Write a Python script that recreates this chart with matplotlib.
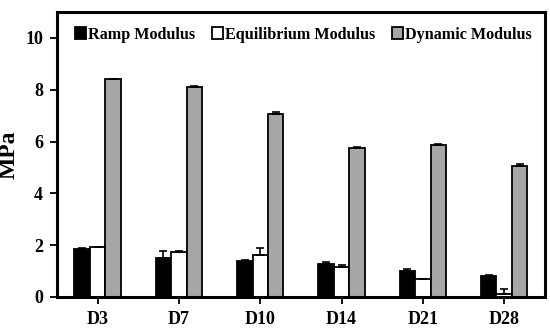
import matplotlib.pyplot as plt
import numpy as np

days = ['D3', 'D7', 'D10', 'D14', 'D21', 'D28']
ramp = [1.84, 1.50, 1.38, 1.28, 1.00, 0.80]
ramp_err = [0.03, 0.27, 0.04, 0.05, 0.07, 0.06]
equil = [1.91, 1.73, 1.63, 1.15, 0.68, 0.12]
equil_err = [0.03, 0.04, 0.25, 0.10, 0.02, 0.20]
dynamic = [8.40, 8.12, 7.05, 5.76, 5.86, 5.05]
dynamic_err = [0.03, 0.03, 0.10, 0.03, 0.03, 0.08]

plt.rcParams['font.family'] = 'Liberation Serif'
plt.rcParams['font.weight'] = 'bold'

fig = plt.figure(figsize=(5.5, 3.34), dpi=100)
ax = fig.add_axes([0.1036, 0.111, 0.887, 0.853])

x = np.arange(len(days))
w = 0.19
ek = dict(ecolor='black', elinewidth=1.2, capsize=3, capthick=1.2)
series = [(ramp, ramp_err, 'black', 'Ramp Modulus', -w),
          (equil, equil_err, 'white', 'Equilibrium Modulus', 0),
          (dynamic, dynamic_err, '#a6a6a6', 'Dynamic Modulus', w)]
for vals, err, col, lab, off in series:
    ax.bar(x + off, vals, w, color=col, edgecolor='black', linewidth=1.3,
           yerr=[np.zeros(len(err)), err], error_kw=ek, label=lab)

ax.set_xlim(-0.5, 5.5)
ax.set_ylim(0, 11)
ax.set_xticks(x)
ax.set_xticklabels(days, fontsize=13, fontweight='bold')
ax.set_yticks([0, 2, 4, 6, 8, 10])
ax.set_yticklabels(['0', '2', '4', '6', '8', '10'], fontsize=13, fontweight='bold')
ax.tick_params(axis='x', length=5, width=1.3, pad=5)
ax.tick_params(axis='y', length=5, width=1.3, pad=5)
for s in ax.spines.values():
    s.set_linewidth(2.2)
ax.set_ylabel('MPa', fontsize=17, fontweight='bold', labelpad=4)

ax.legend(loc='upper center', bbox_to_anchor=(0.505, 1.0), ncol=3, frameon=False,
          prop={'size': 11.6, 'weight': 'bold'}, handlelength=0.7, handleheight=0.7,
          handletextpad=0.15, columnspacing=1.0)

plt.savefig('out.png', dpi=100)
